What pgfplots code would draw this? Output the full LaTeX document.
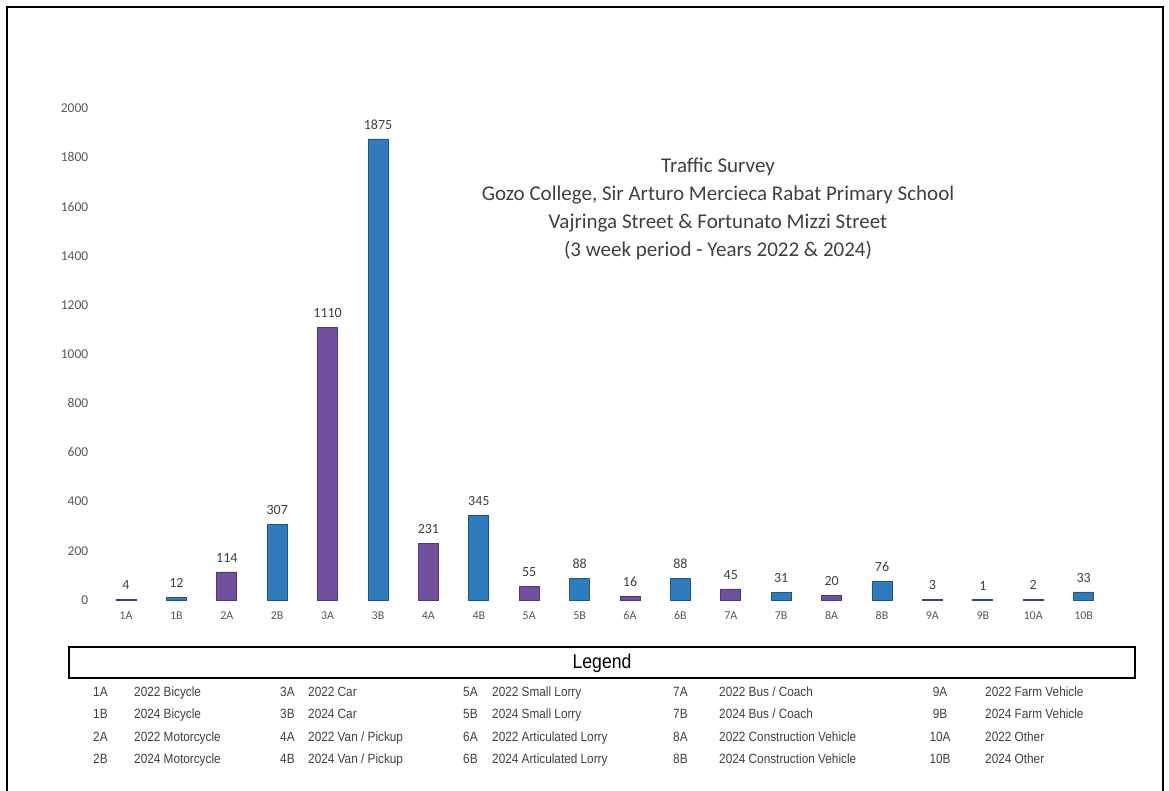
\documentclass[border=0pt]{standalone}
\usepackage{pgfplots}
\pgfplotsset{compat=1.18}
\usepackage{pgfplotstable}
\usepackage{fontspec}
\setmainfont{Carlito}
\newfontfamily\legfont[FakeStretch=0.88]{Liberation Sans}
\definecolor{barpurple}{RGB}{114,80,160}
\definecolor{barblue}{RGB}{46,124,190}
\definecolor{tickgray}{RGB}{89,89,89}
\definecolor{labgray}{RGB}{64,64,64}

\pgfplotstableread{
x y
0 4
2 114
4 1110
6 231
8 55
10 16
12 45
14 20
16 3
18 2
}\dataA
\pgfplotstableread{
x y
1 12
3 307
5 1875
7 345
9 88
11 88
13 31
15 76
17 1
19 33
}\dataB

\begin{document}
\begin{tikzpicture}
\path[use as bounding box] (0pt,0pt) rectangle (1169pt,790pt);
\fill[white] (0pt,0pt) rectangle (1169pt,790pt);
\draw[line width=1.8pt] (7pt,-5pt) -- (7pt,783pt) -- (1163pt,783pt) -- (1163pt,-5pt);

\begin{axis}[
  at={(100.8pt,190pt)}, anchor=south west,
  scale only axis,
  width=1008pt, height=491.8pt,
  xmin=-0.5, xmax=19.5, ymin=0, ymax=2000,
  axis lines=left,
  axis line style={draw=none},
  major tick length=0pt,
  clip=false,
  /pgf/number format/1000 sep={},
  /pgf/number format/assume math mode=true,
  ytick={0,200,...,2000},
  xtick={0,...,19},
  xticklabels={1A,1B,2A,2B,3A,3B,4A,4B,5A,5B,6A,6B,7A,7B,8A,8B,9A,9B,10A,10B},
  yticklabel style={font=\fontsize{13.5}{15}\selectfont, text=tickgray, xshift=-9pt},
  xticklabel style={font=\fontsize{12}{14}\selectfont, text=tickgray, yshift=-8pt},
  ybar, bar width=20pt, bar shift=0pt,
  nodes near coords,
  every node near coord/.append style={font=\fontsize{14}{16}\selectfont, text=labgray, yshift=6pt},
]
\addplot[fill=barpurple, draw=barpurple!70!black, line width=0.7pt] table[x=x,y=y] {\dataA};
\addplot[fill=barblue, draw=barblue!70!black, line width=0.7pt] table[x=x,y=y] {\dataB};
\end{axis}

\begin{scope}[x=1pt,y=1pt]
\node[align=center, text=labgray, font=\fontsize{21}{28}\selectfont] at (718,581) {Traffic Survey\\Gozo College, Sir Arturo Mercieca Rabat Primary School\\Vajringa Street \& Fortunato Mizzi Street\\(3 week period - Years 2022 \& 2024)};

\draw[line width=1.5pt] (69,143) rectangle (1135,112);
\node[font=\legfont\fontsize{20}{22}\selectfont] at (602,127) {Legend};

\begin{scope}[every node/.style={anchor=base west, inner sep=0pt, text=labgray, font=\legfont\fontsize{13.4}{15}\selectfont}]
\foreach \yy/\ca/\ta/\cb/\tb/\cc/\tc/\cd/\td/\ce/\te in {
  692/1A/{2022 Bicycle}/3A/{2022 Car}/5A/{2022 Small Lorry}/7A/{2022 Bus / Coach}/9A/{2022 Farm Vehicle},
  714/1B/{2024 Bicycle}/3B/{2024 Car}/5B/{2024 Small Lorry}/7B/{2024 Bus / Coach}/9B/{2024 Farm Vehicle},
  737/2A/{2022 Motorcycle}/4A/{2022 Van / Pickup}/6A/{2022 Articulated Lorry}/8A/{2022 Construction Vehicle}/10A/{2022 Other},
  759/2B/{2024 Motorcycle}/4B/{2024 Van / Pickup}/6B/{2024 Articulated Lorry}/8B/{2024 Construction Vehicle}/10B/{2024 Other}}
{
  \pgfmathsetmacro{\bl}{790-\yy-4.8}
  \node at (93,\bl) {\ca};
  \node at (134,\bl) {\ta};
  \node at (280,\bl) {\cb};
  \node at (308,\bl) {\tb};
  \node at (463,\bl) {\cc};
  \node at (492,\bl) {\tc};
  \node at (673,\bl) {\cd};
  \node at (719,\bl) {\td};
  \node[anchor=base] at (940,\bl) {\ce};
  \node at (985,\bl) {\te};
}
\end{scope}
\end{scope}
\end{tikzpicture}
\end{document}
